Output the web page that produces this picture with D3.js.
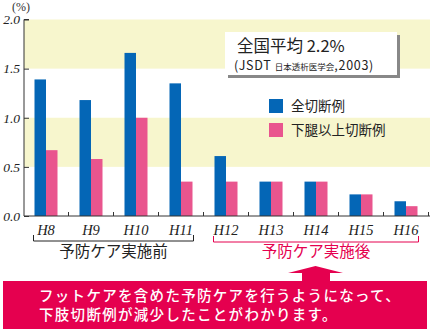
<!DOCTYPE html>
<html>
<head>
<meta charset="utf-8">
<script src="https://cdn.jsdelivr.net/npm/d3@7"></script>
<style>
  body { margin: 0; background: #fff; }
  svg { display: block; }
  .jp { font-family: "Noto Sans CJK JP", "Noto Sans", sans-serif; }
  .num { font-family: "Liberation Serif", "DejaVu Serif", serif; font-style: italic; }
</style>
</head>
<body>
<div id="chart"></div>
<script>
// years (Heisei) and amputation rates in %
var years = ["H8", "H9", "H10", "H11", "H12", "H13", "H14", "H15", "H16"];
var allCases = [1.39, 1.18, 1.66, 1.35, 0.61, 0.35, 0.35, 0.22, 0.15];
var aboveKnee = [0.67, 0.58, 1.00, 0.35, 0.35, 0.35, 0.35, 0.22, 0.10];
var yTicks = [0, 0.5, 1.0, 1.5, 2.0];
var bands = [[0.5, 1.0], [1.5, 2.0]];
var seriesNames = ["全切断例", "下腿以上切断例"];

var colors = { blue: "#0466b6", pink: "#e9558e", band: "#f7f6cd", red: "#e5004f" };

var W = 430, H = 329;
var svg = d3.select("#chart").append("svg")
    .attr("width", W)
    .attr("height", H);

var x = d3.scaleBand().domain(years).range([23.5, 428.5]);
var inner = d3.scaleBand().domain(["all", "knee"]).range([0, 23]);
var innerOff = (x.bandwidth() - 23) / 2;
var y = d3.scaleLinear().domain([0, 2]).range([216, 19.5]);

// shaded bands
svg.selectAll(".band")
    .data(bands)
    .enter().append("rect")
    .attr("x", 24)
    .attr("width", 406)
    .attr("y", function(d) { return y(d[1]); })
    .attr("height", function(d) { return y(d[0]) - y(d[1]); })
    .attr("fill", colors.band);

// bars
var groups = svg.selectAll(".grp")
    .data(years.map(function(yr, i) { return {year: yr, all: allCases[i], knee: aboveKnee[i]}; }))
    .enter().append("g")
    .attr("transform", function(d) { return "translate(" + (x(d.year) + innerOff) + ",0)"; });

groups.append("rect")
    .attr("x", inner("all"))
    .attr("width", inner.bandwidth())
    .attr("y", function(d) { return y(d.all); })
    .attr("height", function(d) { return y(0) - y(d.all); })
    .attr("fill", colors.blue);

groups.append("rect")
    .attr("x", inner("knee"))
    .attr("width", inner.bandwidth())
    .attr("y", function(d) { return y(d.knee); })
    .attr("height", function(d) { return y(0) - y(d.knee); })
    .attr("fill", colors.pink);

// y axis
var yAxis = svg.append("g")
    .attr("transform", "translate(24,0)")
    .call(d3.axisRight(y).tickValues(yTicks).tickSize(5).tickFormat(d3.format(".1f")));
yAxis.select(".domain").attr("d", "M5," + y(2) + "H0V" + y(0)).attr("stroke", "#333");
yAxis.selectAll(".tick line").attr("stroke", "#333");
yAxis.selectAll(".tick text")
    .attr("class", "num")
    .attr("x", -4)
    .attr("text-anchor", "end")
    .attr("font-size", 13.5)
    .attr("fill", "#222");

svg.append("text")
    .attr("x", 21).attr("y", 11)
    .attr("text-anchor", "middle")
    .attr("font-family", "'Liberation Serif', serif")
    .attr("font-size", 12)
    .attr("fill", "#333")
    .text("(%)");

// x axis
var xAxis = svg.append("g")
    .attr("transform", "translate(0," + y(0) + ")")
    .call(d3.axisBottom(x).tickSize(0).tickPadding(9));
xAxis.select(".domain").attr("d", "M24,0H430").attr("stroke", "#333");
xAxis.selectAll(".tick text")
    .attr("class", "num")
    .attr("font-size", 14.5)
    .attr("fill", "#222");
// small separators between the years
svg.selectAll(".sep")
    .data(years)
    .enter().append("line")
    .attr("x1", function(d) { return x(d) + x.bandwidth(); })
    .attr("x2", function(d) { return x(d) + x.bandwidth(); })
    .attr("y1", y(0)).attr("y2", y(0) - 4)
    .attr("stroke", "#333");

// brackets for before / after preventive care
function bracket(from, to, color, label, top) {
    var x0 = x(from) + innerOff - 1, x1 = x(to) + innerOff + 24;
    svg.append("path")
        .attr("d", "M" + x0 + "," + top + "V" + (top + 6) + "H" + x1 + "V" + top)
        .attr("fill", "none")
        .attr("stroke", color)
        .attr("stroke-width", 1);
    svg.append("text")
        .attr("class", "jp")
        .attr("x", (x0 + x1) / 2)
        .attr("y", 257)
        .attr("text-anchor", "middle")
        .attr("font-size", 15.5)
        .attr("fill", color)
        .text(label);
}
bracket("H8", "H11", "#222", "予防ケア実施前", 235);
bracket("H12", "H16", colors.red, "予防ケア実施後", 236);

// national average box
svg.append("rect")
    .attr("x", 228).attr("y", 35)
    .attr("width", 172).attr("height", 43)
    .attr("fill", "#888");
svg.append("rect")
    .attr("x", 225).attr("y", 32)
    .attr("width", 172).attr("height", 43)
    .attr("fill", "#fff");
svg.append("text")
    .attr("class", "jp")
    .attr("x", 237).attr("y", 52)
    .attr("font-size", 16.5)
    .attr("fill", "#222")
    .text("全国平均 2.2%");
var src = svg.append("text")
    .attr("class", "jp")
    .attr("x", 234).attr("y", 70)
    .attr("font-size", 12.5)
    .attr("letter-spacing", 0.7)
    .attr("fill", "#222");
src.append("tspan").text("(JSDT ");
src.append("tspan").attr("font-size", 8.5).attr("letter-spacing", 0).text("日本透析医学会");
src.append("tspan").text(",2003)");

// legend
var legend = svg.selectAll(".leg")
    .data(seriesNames)
    .enter().append("g")
    .attr("transform", function(d, i) { return "translate(269," + (99 + i * 24) + ")"; });
legend.append("rect")
    .attr("width", 14).attr("height", 14)
    .attr("fill", function(d, i) { return i === 0 ? colors.blue : colors.pink; });
legend.append("text")
    .attr("class", "jp")
    .attr("x", 22).attr("y", 12)
    .attr("font-size", 13.5)
    .attr("fill", "#222")
    .text(function(d) { return d; });

// arrow and message box
svg.append("path")
    .attr("d", "M302,282V273H288L315.5,266L343,273H330V282Z")
    .attr("fill", colors.red);
svg.append("rect")
    .attr("x", 3).attr("y", 281)
    .attr("width", 424).attr("height", 48)
    .attr("fill", colors.red);
var msg = svg.append("g")
    .attr("class", "jp")
    .attr("font-size", 14.5)
    .attr("font-weight", 500)
    .attr("letter-spacing", 1.3)
    .attr("fill", "#fff");
msg.append("text")
    .attr("x", 39).attr("y", 301)
    .text("フットケアを含めた予防ケアを行うようになって、");
msg.append("text")
    .attr("x", 39).attr("y", 320)
    .text("下肢切断例が減少したことがわかります。");
</script>
</body>
</html>
